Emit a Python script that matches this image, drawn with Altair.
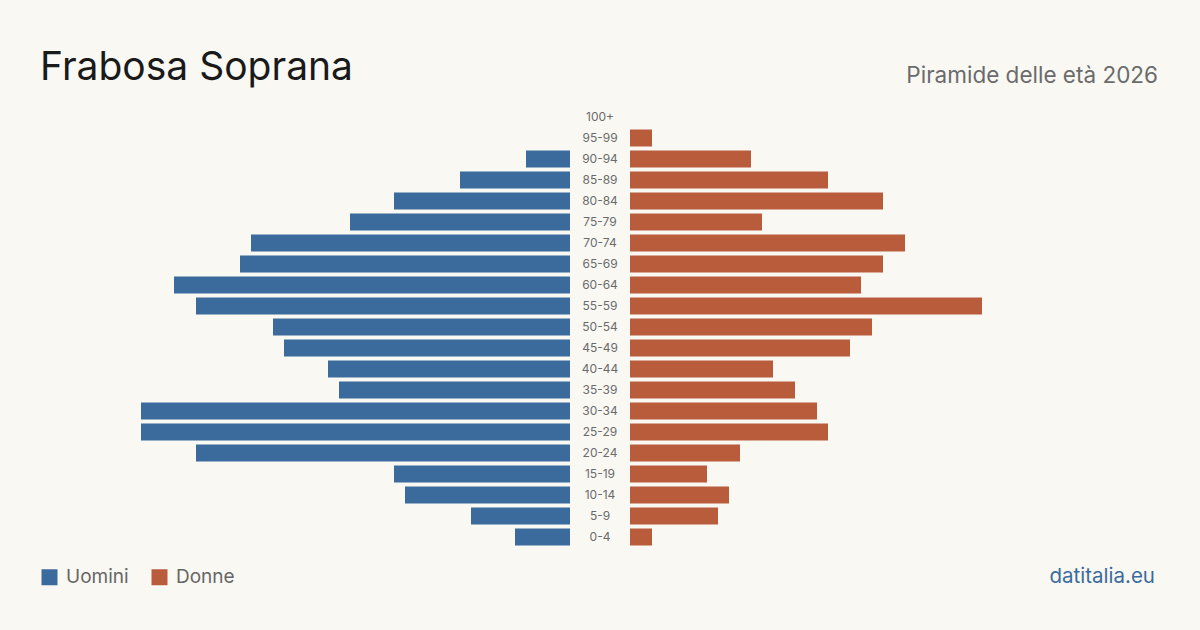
import altair as alt
import pandas as pd

ages = ["100+", "95-99", "90-94", "85-89", "80-84", "75-79", "70-74", "65-69",
        "60-64", "55-59", "50-54", "45-49", "40-44", "35-39", "30-34", "25-29",
        "20-24", "15-19", "10-14", "5-9", "0-4"]
uomini = [0, 0, 4, 10, 16, 20, 29, 30, 36, 34, 27, 26, 22, 21, 39, 39, 34, 16, 15, 9, 5]
donne = [0, 2, 11, 18, 23, 12, 25, 23, 21, 32, 22, 20, 13, 15, 17, 18, 10, 7, 9, 8, 2]
sessi = ["Uomini", "Donne"]
colori = ["#3b6b9c", "#b95c3c"]

title_text = "Frabosa Soprana"
subtitle_text = "Piramide delle età 2026"
source_text = "datitalia.eu"

rows = []
for a, m, f in zip(ages, uomini, donne):
    rows.append({"eta": a, "sesso": "Uomini", "valore": m})
    rows.append({"eta": a, "sesso": "Donne", "valore": f})
df = pd.DataFrame(rows)

FONT = "Inter"

y_enc = alt.Y("eta:N", sort=ages, axis=None,
              scale=alt.Scale(paddingInner=0.19, paddingOuter=0.095))
color_enc = alt.Color("sesso:N",
                      scale=alt.Scale(domain=sessi, range=colori),
                      legend=alt.Legend(title=None, orient="none", direction="horizontal",
                                        legendX=0, legendY=461,
                                        symbolType="square", symbolSize=256,
                                        symbolStrokeWidth=0, symbolOpacity=1,
                                        labelFontSize=19, labelFont=FONT,
                                        labelColor="#666666", labelOffset=7,
                                        columnPadding=21))

base = alt.Chart(df)

male = base.transform_filter(alt.datum.sesso == "Uomini").mark_bar().encode(
    x=alt.X("valore:Q", axis=None,
            scale=alt.Scale(domain=[0, 40], range=[530, 90])),
    y=y_enc,
    color=color_enc,
)

female = base.transform_filter(alt.datum.sesso == "Donne").mark_bar().encode(
    x=alt.X("valore:Q", axis=None,
            scale=alt.Scale(domain=[0, 40], range=[590, 1030])),
    y=y_enc,
    color=color_enc,
)

labels = alt.Chart(pd.DataFrame({"eta": ages})).mark_text(
    font=FONT, fontSize=12, color="#6b6b6b", align="center", baseline="middle"
).encode(
    x=alt.value(560),
    y=y_enc,
    text="eta:N",
)

title = alt.Chart(pd.DataFrame({"t": [title_text]})).mark_text(
    font=FONT, fontSize=39, color="#1a1a1a", align="left", baseline="alphabetic"
).encode(x=alt.value(0), y=alt.value(-26.5), text="t:N")

subtitle = alt.Chart(pd.DataFrame({"t": [subtitle_text]})).mark_text(
    font=FONT, fontSize=22.5, color="#6b6b6b", align="right", baseline="alphabetic"
).encode(x=alt.value(1118), y=alt.value(-23.5), text="t:N")

source = alt.Chart(pd.DataFrame({"t": [source_text]})).mark_text(
    font=FONT, fontSize=20.5, color="#3b6b9c", align="right", baseline="alphabetic"
).encode(x=alt.value(1115), y=alt.value(476.5), text="t:N")

chart = alt.layer(male, female, labels, title, subtitle, source).resolve_scale(
    x="independent"
).properties(
    width=1120, height=441,
    autosize=alt.AutoSizeParams(type="none"),
    padding={"left": 40, "right": 40, "top": 106.5, "bottom": 82.5},
    background="#f9f8f3",
).configure_view(stroke=None)

chart.save("out.html", embed_options={"renderer": "svg", "actions": False})
